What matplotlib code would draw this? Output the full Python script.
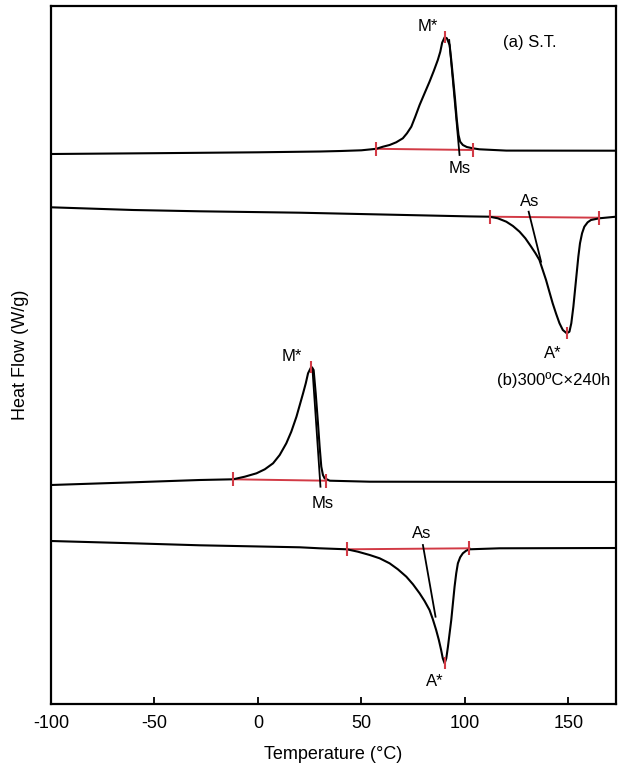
import matplotlib
matplotlib.use("Agg")
import matplotlib.pyplot as plt

plt.rcParams['font.family'] = ['Liberation Sans', 'DejaVu Sans']

# (a) S.T. - cooling curve (arbitrary heat-flow units, curves stacked)
Ta_c = [-100, -50, 0, 30, 40, 50, 57.2, 60.4, 63.6, 66.8, 70.0, 72.0, 74.1, 76.0, 78.1,
        80.5, 82.9, 85.0, 86.9, 88.1, 89.0, 90.2, 91.3, 92.6, 93.4, 94.2, 95.2, 96.1,
        96.9, 97.7, 99.0, 100.9, 103.8, 107, 120, 173]
Ha_c = [550, 550.8, 551.7, 552.5, 553, 553.7, 555.2, 557.3, 559, 561.7, 565.7, 570.7, 577.3,
        587.3, 599, 610.7, 622.3, 633.3, 644, 652.3, 661.3, 666.7, 665.7, 659, 644, 627.3,
        605.7, 584, 569, 562.3, 559, 557, 555.7, 554.7, 553.4, 553.3]
# (a) S.T. - heating curve
Ta_h = [-100, -60.3, -28.1, 20.2, 102.2, 111.9, 115.9, 120.0, 123.2, 126.4, 129.2, 132.0,
        134.1, 136.0, 137.6, 139.2, 140.8, 142.4, 144.1, 145.7, 147.3, 149.2, 150.5, 151.4,
        152.4, 153.2, 154.0, 154.8, 155.6, 156.6, 157.7, 159.3, 160.9, 164.9, 173]
Ha_h = [496.7, 494, 492.7, 491.3, 487.6, 487.3, 485.7, 482.3, 478, 472.3, 465.7, 457.3,
        450.7, 444, 434, 424, 412.3, 400.7, 390, 380.7, 374, 370.7, 372.3, 380.7,
        397.3, 414, 430.7, 447.3, 460.7, 470.7, 477.3, 481.7, 484, 485.7, 487.3]
# (b) 300C x 240h - cooling curve
Tb_c = [-100, -60.3, -28.1, -12, -6.4, -0.7, 3.3, 7.3, 10.5, 13.7, 16.1, 18.6, 20.2, 21.8,
        23.1, 24.2, 25.8, 26.9, 27.9, 29.0, 29.8, 30.6, 31.4, 32.2, 34.7, 54, 173]
Hb_c = [219, 221.7, 224, 224.7, 227.3, 230.7, 234.7, 240.7, 249, 260.7, 272.3, 287.3, 299,
        310.7, 320.7, 330.7, 337.3, 334, 310.7, 280.7, 257.3, 237.3, 229, 225.7, 223.3,
        222.3, 222]
# (b) 300C x 240h - heating curve
Tb_h = [-100, -60.3, -28.1, 20.2, 29.8, 43, 48.3, 54, 58.8, 63.6, 67.6, 71.7, 74.9, 78.1,
        80.5, 82.9, 84.5, 86.1, 87.4, 88.5, 89.3, 90.2, 91.0, 91.8, 92.6, 93.4, 94.2, 95.0,
        95.8, 96.6, 97.7, 99.0, 100.6, 102.2, 116.7, 173]
Hb_h = [163, 160.7, 158.7, 156.7, 155.7, 154.7, 152.3, 149, 145.7, 140.7, 134.7, 127.3,
        119.7, 110.7, 103, 94, 84.7, 74, 64, 54, 45.7, 40.7, 45.7, 57.3, 70.7, 84, 100.7,
        117.3, 130.7, 140.7, 146.7, 150.7, 153.3, 154.7, 155.7, 156]

# red construction baselines: (T_start, H_start, T_end, H_end)
baselines = [(57.2, 555.2, 103.8, 554.0),
             (111.9, 487.3, 164.9, 486.3),
             (-12, 224.7, 33, 223.3),
             (43, 154.7, 102.2, 155.7)]
# peak markers (T, H)
peaks = [(90.2, 666.7), (149.2, 370.7), (25.8, 337.3), (90.2, 40.7)]
# onset tangent lines (T1, H1, T2, H2)
tangents = [(92.4, 664, 97.4, 549),
            (130.8, 492.3, 136.8, 442.3),
            (26.3, 335.7, 30.2, 217.3),
            (79.7, 159, 85.8, 87.3)]
# text labels (T, H, text)
labels = [(82.1, 677.3, "M*"), (97.4, 535.7, "Ms"), (131.2, 661, "(a) S.T."),
          (131.2, 502.3, "As"), (142.3, 351, "A*"),
          (142.8, 324, "(b)300ºC×240h"),
          (16.2, 347.3, "M*"), (31.1, 200.7, "Ms"),
          (78.9, 170, "As"), (85.3, 22.3, "A*")]

fig = plt.figure(figsize=(6.23, 7.66), dpi=100)
ax = fig.add_axes([51/623, 1-704/766, (616-51)/623, (704-6)/766])

red = "#d23a45"
for t1, h1, t2, h2 in baselines:
    ax.plot([t1, t2], [h1, h2], color=red, lw=1.4, zorder=2)
    ax.plot([t1, t2], [h1, h2], ls="none", marker="|", ms=10, mew=1.5, color=red, zorder=4)
for T, H in [(Ta_c, Ha_c), (Ta_h, Ha_h), (Tb_c, Hb_c), (Tb_h, Hb_h)]:
    ax.plot(T, H, color="black", lw=1.5, zorder=3, solid_joinstyle="round")
for t1, h1, t2, h2 in tangents:
    ax.plot([t1, t2], [h1, h2], color="black", lw=1.3, zorder=3)
for t, h in peaks:
    ax.plot([t], [h], ls="none", marker="|", ms=8, mew=1.5, color=red, zorder=4)
for t, h, s in labels:
    ax.text(t, h, s, ha="center", va="center", fontsize=12)

ax.set_xlim(-100, 173)
ax.set_ylim(0, 698)
ax.set_xticks([-100, -50, 0, 50, 100, 150])
ax.set_xticklabels(["-100", "-50", "0", "50", "100", "150"])
ax.set_yticks([])
ax.tick_params(axis="x", direction="in", length=5, width=1.3, labelsize=13, pad=8)
for sp in ax.spines.values():
    sp.set_linewidth(1.6)
ax.set_xlabel("Temperature (°C)", fontsize=13, labelpad=10)
ax.set_ylabel("Heat Flow (W/g)", fontsize=13, labelpad=16)

fig.savefig("out.png", dpi=100)
